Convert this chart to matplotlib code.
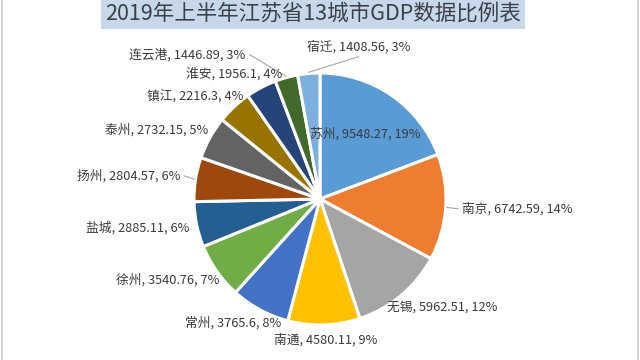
import matplotlib.pyplot as plt
import numpy as np

plt.rcParams['font.family'] = ['Noto Sans CJK SC', 'DejaVu Sans']

# 2019年上半年江苏省13城市GDP(亿元)
cities = ['苏州', '南京', '无锡', '南通', '常州', '徐州', '盐城',
          '扬州', '泰州', '镇江', '淮安', '连云港', '宿迁']
gdp = [9548.27, 6742.59, 5962.51, 4580.11, 3765.6, 3540.76, 2885.11,
       2804.57, 2732.15, 2216.3, 1956.1, 1446.89, 1408.56]
pcts = [19, 14, 12, 9, 8, 7, 6, 6, 5, 4, 4, 3, 3]
colors = ['#5b9bd5', '#ed7d31', '#a5a5a5', '#ffc000', '#4472c4', '#70ad47', '#255e91',
          '#9e480e', '#636363', '#997300', '#264478', '#43682b', '#7cafdd']

W, H = 640, 360
cx, cy, R = 320, H - 199, 126

# label placement: radius factor, extra nudge (px) and leader line
label_k = {'苏州': 0.63, '南京': 1.13, '扬州': 1.13, '宿迁': 1.07, '连云港': 1.07}
label_nudge = {'宿迁': (55, 11), '连云港': (-81, 8)}
leaders = ['南京', '扬州', '宿迁', '连云港']

fig = plt.figure(figsize=(6.4, 3.6), dpi=100)
ax = fig.add_axes([0, 0, 1, 1])
wedges, _ = ax.pie(gdp, colors=colors, startangle=90, counterclock=False,
                   center=(cx, cy), radius=R,
                   wedgeprops=dict(edgecolor='white', linewidth=2.2))
ax.set_xlim(0, W)
ax.set_ylim(0, H)
ax.set_aspect('equal')
ax.axis('off')

fig.canvas.draw()
renderer = fig.canvas.get_renderer()

for w, name, v, p in zip(wedges, cities, gdp, pcts):
    ang = np.deg2rad((w.theta1 + w.theta2) / 2)
    c, s = np.cos(ang), np.sin(ang)
    k = label_k.get(name, 1.07)
    px, py = cx + R * k * c, cy + R * k * s
    t = ax.text(px, py, f'{name}, {v:g}, {p}%', fontsize=9.2, color='#3a3a3a',
                ha='left', va='bottom')
    bb = t.get_window_extent(renderer)
    tw, th = bb.width, bb.height
    if k < 1:
        x0, y0 = px - tw / 2, py - th / 2
    else:
        x0 = px - (0.5 - 0.5 * c) * tw
        y0 = py - (0.5 - 0.5 * s) * th
    dx, dy = label_nudge.get(name, (0, 0))
    x0, y0 = x0 + dx, y0 + dy
    t.set_position((x0, y0))
    if name in leaders:
        ex, ey = cx + R * 1.01 * c, cy + R * 1.01 * s
        if x0 <= ex <= x0 + tw:
            lx, ly = x0 + tw / 2, y0 if ey < y0 else y0 + th
            ly += -3 if ey < y0 else 3
        elif ex > x0 + tw:
            lx, ly = x0 + tw + 4, y0 + th / 2
        else:
            lx, ly = x0 - 4, y0 + th / 2
        ax.plot([ex, lx], [ey, ly], color='#a6a6a6', lw=0.8)

ax.text(313, H - 14, '2019年上半年江苏省13城市GDP数据比例表', fontsize=15.5,
        color='#3c4048', ha='center', va='center',
        bbox=dict(boxstyle='square,pad=0.18', fc='#c8d8ea', ec='none'))

# thin frame lines at the sides
fig.add_artist(plt.Line2D([1.5 / W, 1.5 / W], [0, 1], color='#d4d4d4', lw=1.5))
fig.add_artist(plt.Line2D([1 - 2 / W, 1 - 2 / W], [0, 1], color='#d4d4d4', lw=1.5))

fig.savefig('out.png', dpi=100)
